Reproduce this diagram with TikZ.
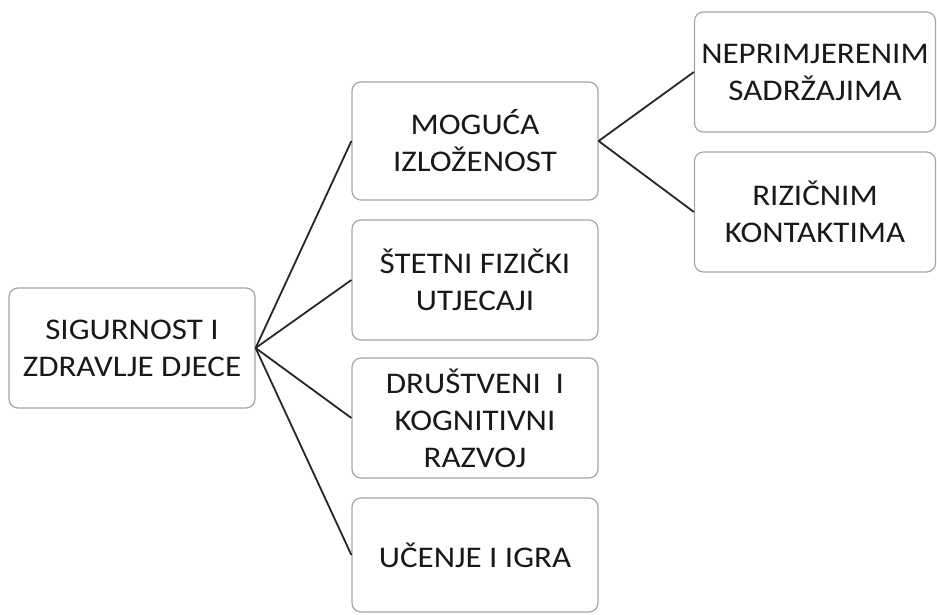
\documentclass[tikz,border=0pt]{standalone}
\usepackage{fontspec}
\setmainfont{Carlito}[FakeStretch=1.1]
\definecolor{boxline}{HTML}{A6A6A6}
\definecolor{linkline}{HTML}{262626}
\tikzset{
  topic/.style={draw=boxline, line width=1.2pt, rounded corners=9pt, align=center,
    minimum width=246pt, minimum height=120pt, inner sep=0pt, text=black!90,
    font=\fontsize{30}{37}\selectfont},
  link/.style={draw=linkline, line width=1.8pt}
}
\begin{document}
\begin{tikzpicture}[x=1pt, y=-1pt]
    \useasboundingbox (0,0) rectangle (937,614);

    % Root
    \node[topic] (root) at (132,348) {SIGURNOST I\\ZDRAVLJE DJECE};

    % Second level
    \node[topic, minimum height=118pt] (izlozenost) at (475,141) {MOGUĆA\\IZLOŽENOST};
    \node[topic] (utjecaji) at (475,280) {ŠTETNI FIZIČKI\\UTJECAJI};
    \node[topic] (razvoj) at (475,418) {DRUŠTVENI\ \ I\\KOGNITIVNI\\RAZVOJ};
    \node[topic, minimum height=114pt] (igra) at (475,555) {UČENJE I IGRA};

    % Third level
    \node[topic, minimum width=241pt] (sadrzaji) at (815,72) {NEPRIMJERENIM\\SADRŽAJIMA};
    \node[topic, minimum width=241pt] (kontakti) at (815,212) {RIZIČNIM\\KONTAKTIMA};

    % Connectors
    \foreach \child in {izlozenost, utjecaji, razvoj, igra}
        \draw[link] (root.east) -- (\child.west);
    \foreach \child in {sadrzaji, kontakti}
        \draw[link] (izlozenost.east) -- (\child.west);
\end{tikzpicture}
\end{document}
